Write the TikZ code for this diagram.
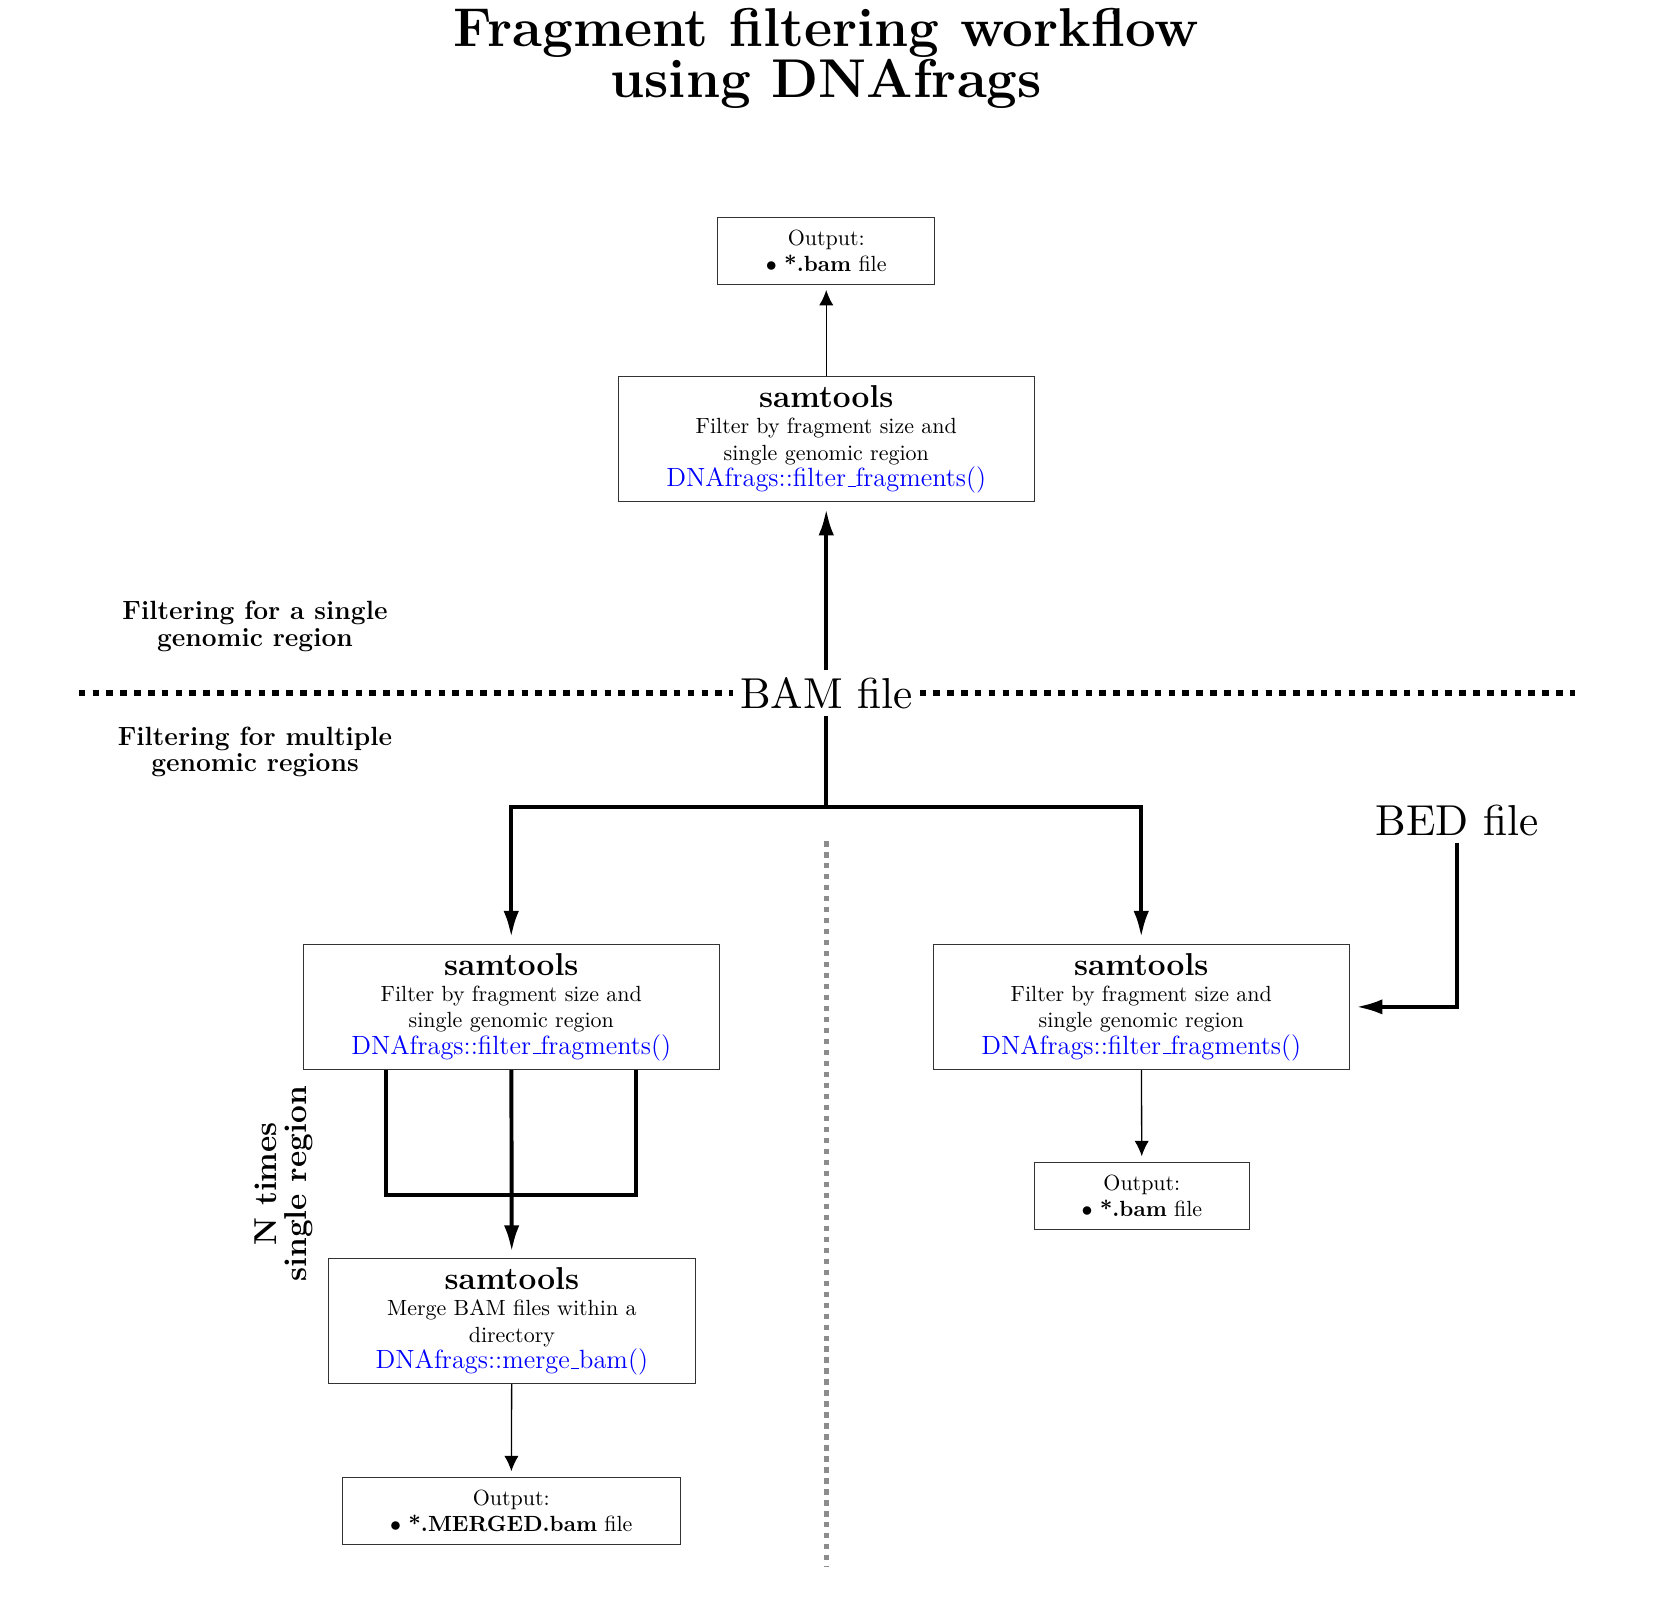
\documentclass[tikz,border=0pt]{standalone}
\usepackage{fontspec}
\usepackage{tikz}
\usetikzlibrary{arrows.meta}
\newfontfamily\filefont[Extension=.otf]{lmroman10-regular}

\tikzset{
	toolbox/.style={draw=black!80, thin, align=center, inner sep=3pt, font=\normalsize},
	outbox/.style={draw=black!80, thin, align=center, inner sep=3pt, minimum height=1.07cm},
	fileword/.style={font={\filefont\fontsize{19.7}{24}\selectfont}, inner sep=3pt},
	sidelabel/.style={align=center, font={\fontsize{12}{12}\bfseries\selectfont}},
	thinarrow/.style={semithick, -{Latex[length=7pt,width=6.5pt]}, shorten >=2.5pt},
	thickarrow/.style={line width=1.8pt, -{Latex[length=12pt,width=7pt]}, shorten >=3pt},
	thickline/.style={line width=1.8pt},
	bamsep/.style={line width=3pt, dash pattern=on 3pt off 3.3pt},
	midsep/.style={black!45, line width=2.5pt, dash pattern=on 2.4pt off 2.6pt}
}
\newcommand{\tool}{{\Large\bfseries samtools}}
\newcommand{\fnc}[1]{{\large\color{blue}#1}}
\newcommand{\us}{\kern.06em\vbox{\hrule width.3em}}

\begin{document}
\begin{tikzpicture}
		%%%%% START %%%%%
		\useasboundingbox (0,0) rectangle (26.464,-25.616);
		
		\node[align=center, font={\fontsize{24.88}{21.7}\bfseries\selectfont}] (title) at (13.22,-0.93) {Fragment filtering workflow\\using DNAfrags};
		
		% single region
		\node[outbox, text width=3.26cm] (topout) at (13.22,-4.01) {Output:\\$\bullet$ \textbf{*.bam} file};
		\node[toolbox, text width=6.44cm, minimum height=2cm] (topsam) at (13.22,-7.03) {\tool\\Filter by fragment size and\\single genomic region\\\fnc{DNAfrags::filter\us fragments()}};
		
		\node[sidelabel] (single) at (4.08,-10.02) {Filtering for a single\\genomic region};
		\node[sidelabel] (multi) at (4.08,-12.03) {Filtering for multiple\\genomic regions};
		
		\node[fileword] (bam) at (13.22,-11.09) {BAM file};
		\draw[bamsep] (1.26,-11.09) -- (bam.west);
		\draw[bamsep] (bam.east) -- (25.2,-11.09);
		
		\draw[thinarrow] (topsam) -- (topout);
		\draw[thickarrow] (bam) -- (topsam);
		
		% multiple regions
		\coordinate (split) at (13.22,-12.91);
		\node[toolbox, text width=6.44cm, minimum height=2cm] (leftsam) at (8.18,-16.11) {\tool\\Filter by fragment size and\\single genomic region\\\fnc{DNAfrags::filter\us fragments()}};
		\node[toolbox, text width=6.44cm, minimum height=2cm] (rightsam) at (18.26,-16.11) {\tool\\Filter by fragment size and\\single genomic region\\\fnc{DNAfrags::filter\us fragments()}};
		\node[fileword] (bed) at (23.31,-13.12) {BED file};
		
		\draw[thickline] (bam) -- (split);
		\draw[thickarrow] (split) -| (leftsam.north);
		\draw[thickarrow] (split) -| (rightsam.north);
		\draw[thickarrow] (bed.south) |- (rightsam.east);
		
		\node[outbox, text width=3.23cm] (rightout) at (18.27,-19.13) {Output:\\$\bullet$ \textbf{*.bam} file};
		\draw[thinarrow] (rightsam) -- (rightout);
		
		\node[toolbox, text width=5.66cm, minimum height=2cm] (merge) at (8.19,-21.14) {\tool\\Merge BAM files within a\\directory\\\fnc{DNAfrags::merge\us bam()}};
		\node[outbox, text width=5.19cm] (mergeout) at (8.18,-24.17) {Output:\\$\bullet$ \textbf{*.MERGED.bam} file};
		
		\draw[thickline] ([xshift=-2cm]leftsam.south) -- ++(0,-2) -- ++(4,0) -- ++(0,2);
		\draw[thickarrow] (leftsam) -- (merge);
		\draw[thinarrow] (merge) -- (mergeout);
		
		\node[rotate=90, align=center, font={\fontsize{14.4}{13.5}\bfseries\selectfont}] (ntimes) at (4.54,-18.94) {N times\\single region};
		
		\draw[midsep] (13.22,-13.46) -- (13.22,-25.06);
		%%%%% END %%%%%
	\end{tikzpicture}
\end{document}
